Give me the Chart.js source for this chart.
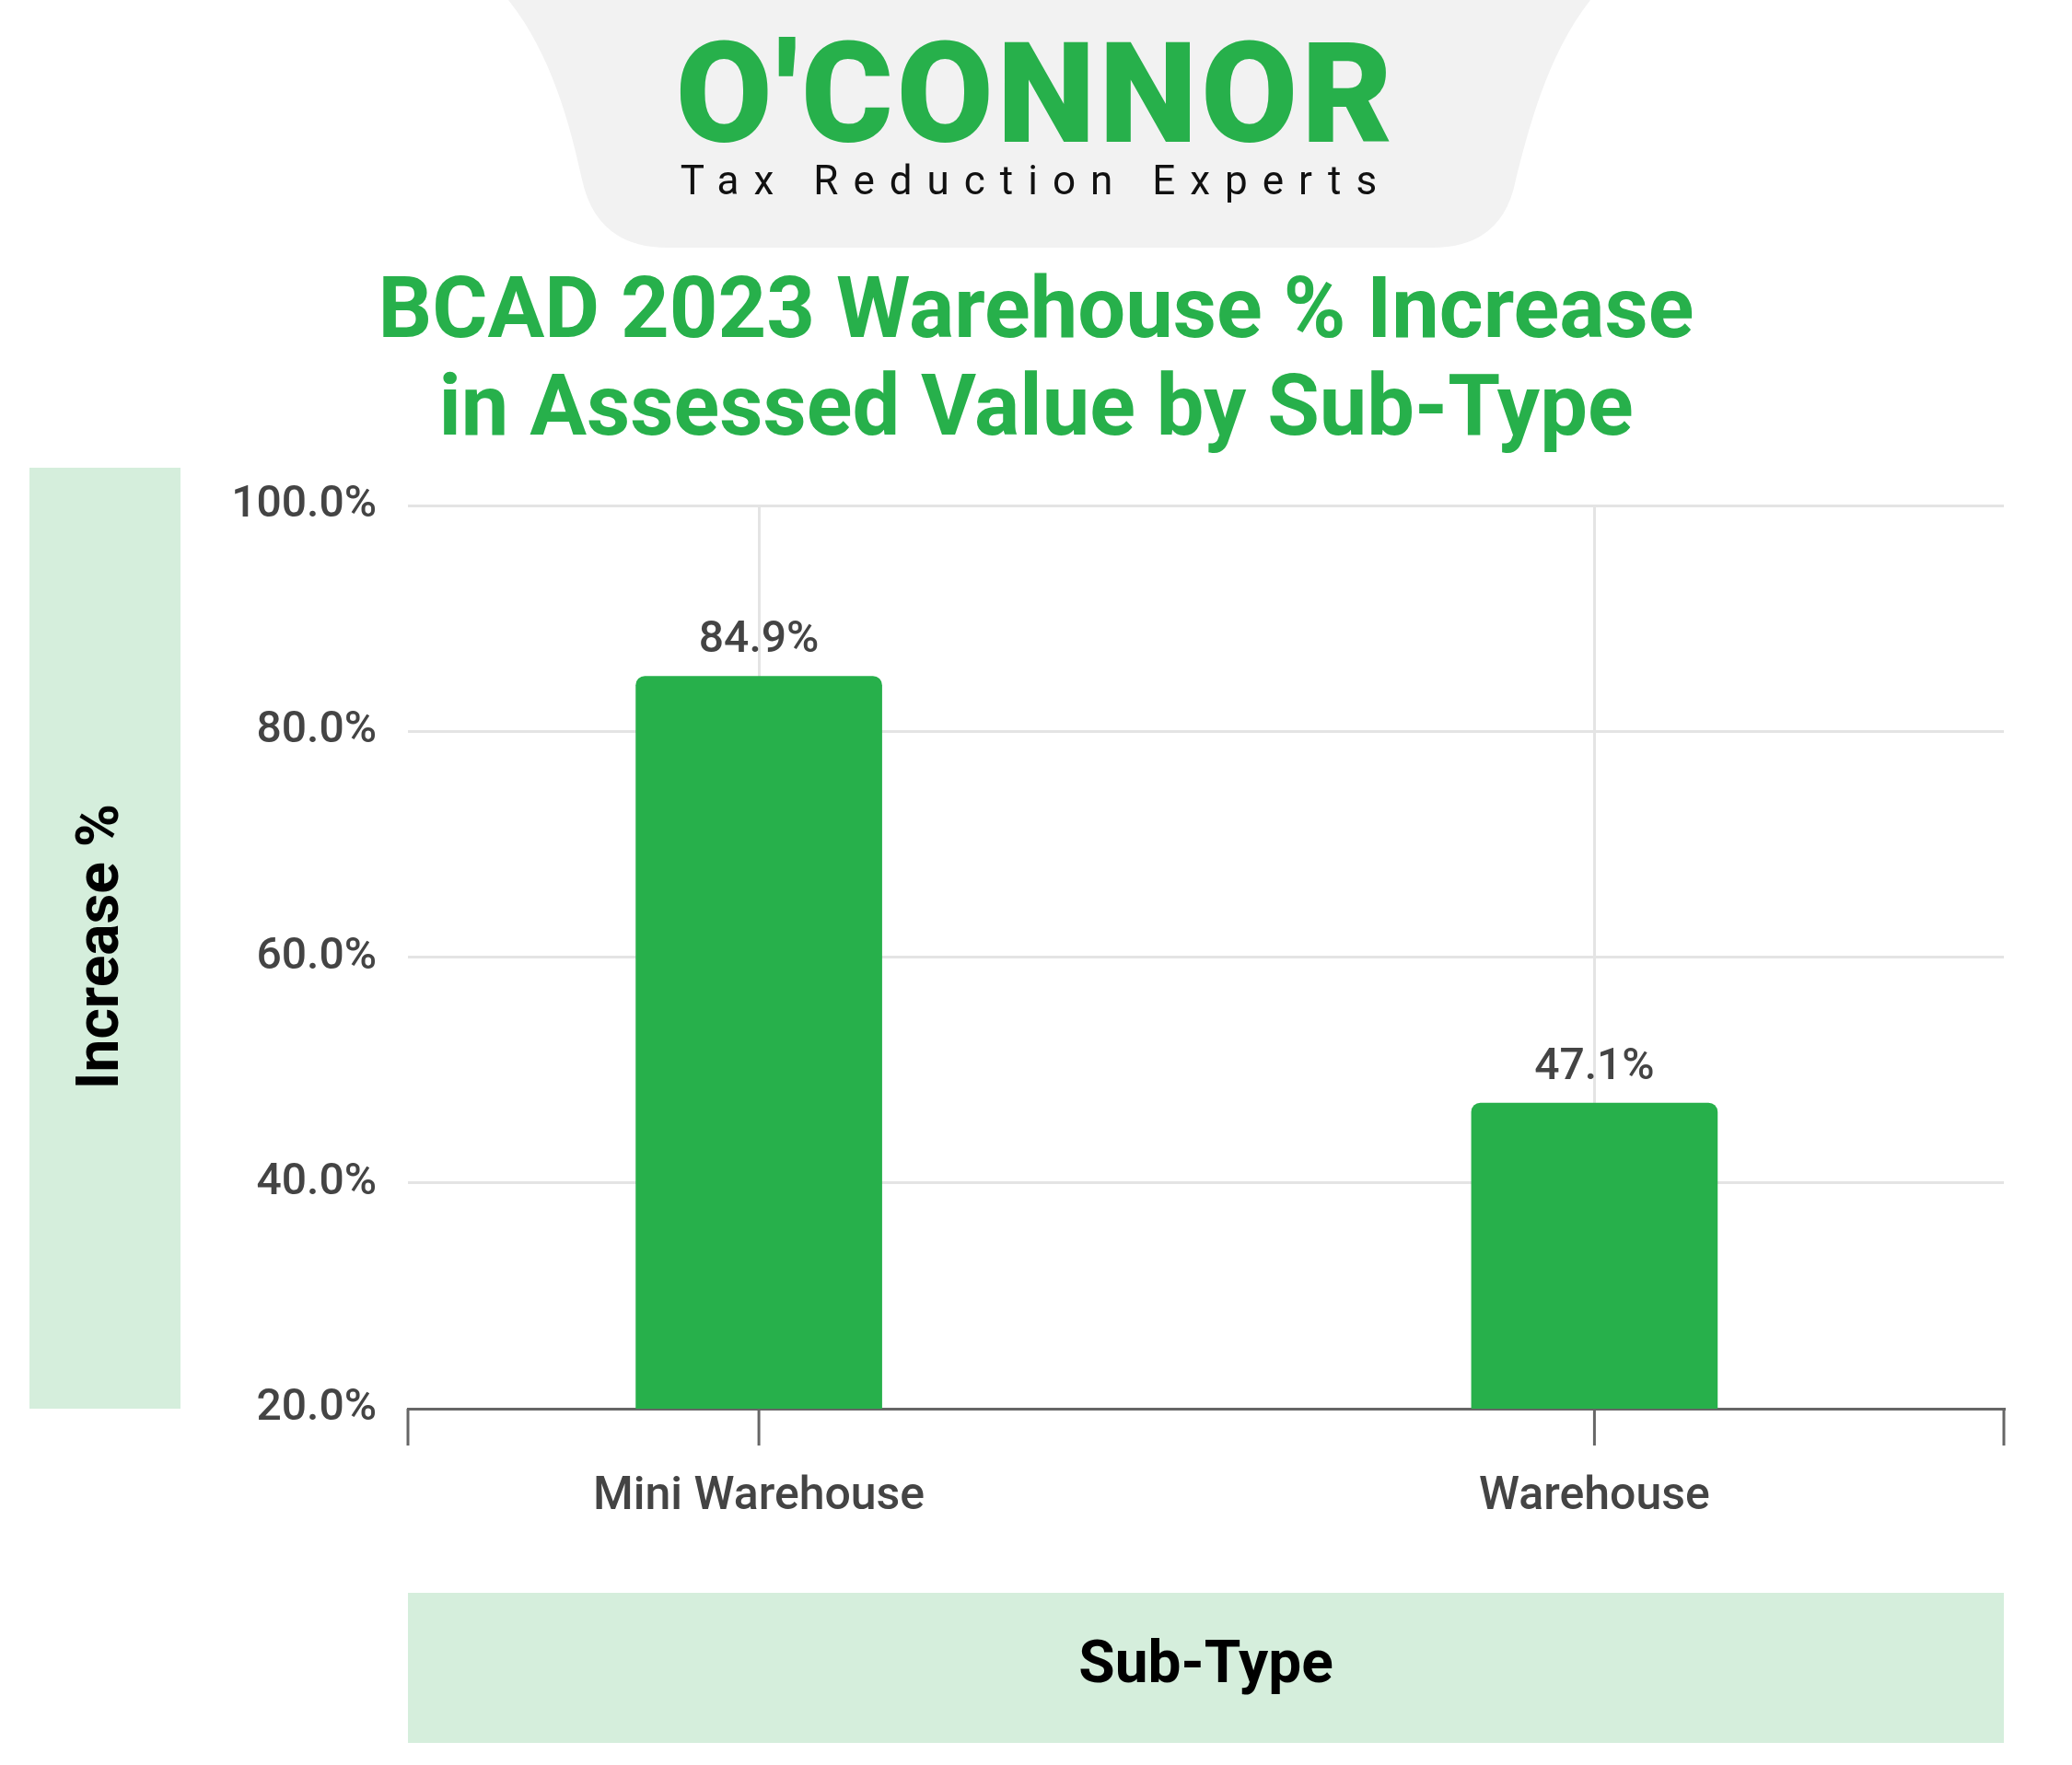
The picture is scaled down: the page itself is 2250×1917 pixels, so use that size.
<!DOCTYPE html>
<html>
<head>
<meta charset="utf-8">
<script src="https://cdn.jsdelivr.net/npm/chart.js@4"></script>
<style>
  body { margin: 0; background: #fff; font-family: Roboto, sans-serif; }
  #wrap { position: relative; width: 2250px; height: 1917px; overflow: hidden; }
  #chart { position: absolute; left: 0; top: 0; }
  .abs { position: absolute; }
  #logo { left: 0; width: 2250px; top: 26px; text-align: center; color: #27b04b; font-weight: 900; font-size: 152px; letter-spacing: 4px; line-height: 1; }
  #tag { left: 0; width: 2250px; top: 170px; text-align: center; color: #111; font-size: 44px; letter-spacing: 16px; }
  #title { left: 0; width: 2250px; top: 282px; text-align: center; color: #27b04b; font-weight: 700; font-size: 92px; line-height: 106px; }
</style>
</head>
<body>
<div id="wrap">
  <svg class="abs" style="left:0;top:0" width="2250" height="280">
    <path d="M552,0 C600,60 620,140 632,195 Q648,269 725,269 L1555,269 Q1632,269 1646,195 C1660,140 1680,60 1727,0 Z" fill="#f2f2f2"/>
  </svg>
  <canvas id="chart" width="2250" height="1917"></canvas>
  <div id="logo" class="abs">O'CONNOR</div>
  <div id="tag" class="abs">Tax Reduction Experts</div>
  <div id="title" class="abs">BCAD 2023 Warehouse % Increase<br>in Assessed Value by Sub-Type</div>
</div>
<script>
const categories = ['Mini Warehouse', 'Warehouse'];
const increasePct = [84.9, 47.1];
const yTicks = [20, 40, 60, 80, 100];

const green = '#27b04b';
const lightGreen = '#d5eedc';

const decor = {
  id: 'decor',
  beforeDraw(chart) {
    const ctx = chart.ctx;
    const a = chart.chartArea;
    ctx.save();
    ctx.fillStyle = lightGreen;
    ctx.fillRect(32, 508, 164, a.bottom - 508);
    ctx.fillRect(a.left, 1730, a.right - a.left, 163);
    ctx.fillStyle = '#000';
    ctx.font = 'bold 64px Roboto';
    ctx.textAlign = 'center';
    ctx.textBaseline = 'middle';
    ctx.fillText('Sub-Type', (a.left + a.right) / 2, 1811);
    ctx.translate(112, 1028);
    ctx.rotate(-Math.PI / 2);
    ctx.fillText('Increase %', 0, 0);
    ctx.restore();
  },
  afterDatasetsDraw(chart) {
    const ctx = chart.ctx;
    const meta = chart.getDatasetMeta(0);
    ctx.save();
    ctx.fillStyle = '#444';
    ctx.font = '500 48px Roboto';
    ctx.textAlign = 'center';
    ctx.textBaseline = 'bottom';
    meta.data.forEach((bar, i) => {
      ctx.fillText(increasePct[i].toFixed(1) + '%', bar.x, bar.y - 14);
    });
    ctx.restore();
  }
};

new Chart(document.getElementById('chart'), {
  type: 'bar',
  data: {
    datasets: [{
      data: increasePct.map((v, i) => ({ x: i, y: v })),
      backgroundColor: green,
      borderRadius: { topLeft: 10, topRight: 10 },
      borderSkipped: 'bottom',
      barPercentage: 0.295,
      categoryPercentage: 1
    }]
  },
  options: {
    responsive: false,
    animation: false,
    layout: { padding: { top: 549, right: 74, left: 0, bottom: 0 } },
    plugins: { legend: { display: false }, tooltip: { enabled: false } },
    scales: {
      y: {
        min: 20, max: 100,
        afterBuildTicks: s => { s.ticks = yTicks.map(v => ({ value: v })); },
        afterFit: s => { s.width = 443; },
        ticks: { callback: v => v.toFixed(1) + '%', color: '#444', font: { size: 48, family: 'Roboto', weight: '500' }, padding: 34 },
        grid: { color: '#e4e4e4', lineWidth: 3, drawTicks: false },
        border: { display: false }
      },
      x: {
        type: 'linear',
        min: -0.42, max: 1.49,
        offset: false,
        afterBuildTicks: s => { s.ticks = categories.map((c, i) => ({ value: i })); },
        afterFit: s => { s.height = 387; },
        ticks: { callback: v => categories[v], color: '#444', font: { size: 50, family: 'Roboto', weight: '500' }, padding: 66, maxRotation: 0 },
        grid: { color: '#e4e4e4', lineWidth: 3, drawTicks: false, offset: false },
        border: { color: '#666', width: 3 }
      }
    }
  },
  plugins: [decor, {
    id: 'xticks',
    afterDraw(chart) {
      const ctx = chart.ctx, a = chart.chartArea, x = chart.scales.x;
      ctx.save();
      ctx.strokeStyle = '#666';
      ctx.lineWidth = 3;
      const xs = [a.left, a.right].concat(categories.map((c, i) => x.getPixelForValue(i)));
      xs.forEach(px => { ctx.beginPath(); ctx.moveTo(px, a.bottom); ctx.lineTo(px, a.bottom + 40); ctx.stroke(); });
      ctx.restore();
    }
  }]
});
</script>
</body>
</html>
